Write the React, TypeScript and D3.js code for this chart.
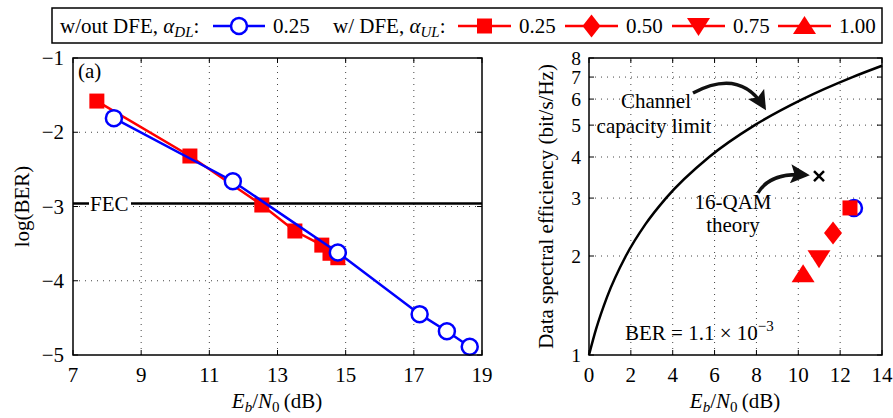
import React, { useRef, useEffect } from 'react';
import * as d3 from 'd3';

// left panel: log(BER) vs Eb/N0
const blueX = [8.2, 11.69, 14.77, 17.17, 17.97, 18.64];
const blueY = [-1.81, -2.66, -3.62, -4.45, -4.68, -4.89];
const redX = [7.7, 10.43, 12.54, 13.51, 14.3, 14.54, 14.77];
const redY = [-1.58, -2.32, -2.98, -3.33, -3.52, -3.63, -3.69];
const fecLevel = -2.96;
const leftXTicks = [7, 9, 11, 13, 15, 17, 19];
const leftYTicks = [-1, -2, -3, -4, -5];

// right panel: spectral efficiency
const capX = [0, 0.34, 0.86, 1.76, 2.7, 3.68, 5.74, 7.92, 10.21, 12.59, 14.0];
const capY = [1, 1.2, 1.5, 2, 2.5, 3, 4, 5, 6, 7, 7.58];
const dfeShapes = ['square', 'diamond', 'down', 'up'];
const dfeAlpha = ['0.25', '0.50', '0.75', '1.00'];
const dfeX = [12.47, 11.66, 10.99, 10.23];
const dfeY = [2.8, 2.35, 1.97, 1.76];
const noDfeX = [12.66];
const noDfeY = [2.8];
const qamX = 10.99;
const qamY = 3.5;
const rightXTicks = [0, 2, 4, 6, 8, 10, 12, 14];
const rightYTicks = [1, 2, 3, 4, 5, 6, 7, 8];

const FONT = "'Liberation Serif'";
const FS = 21;
const SUB = 15;
const RED = '#ff0000';
const BLUE = '#0000ff';

function marker(g: any, shape: string, x: number, y: number) {
  if (shape === 'circle') {
    g.append('circle').attr('cx', x).attr('cy', y).attr('r', 8)
      .attr('fill', '#fff').attr('stroke', BLUE).attr('stroke-width', 2.5);
    return;
  }
  let pts: number[][] = [];
  if (shape === 'square') pts = [[-7.5, -7.5], [7.5, -7.5], [7.5, 7.5], [-7.5, 7.5]];
  if (shape === 'diamond') pts = [[0, -11.5], [9, 0], [0, 11.5], [-9, 0]];
  if (shape === 'down') pts = [[-11.5, -8], [11.5, -8], [0, 10]];
  if (shape === 'up') pts = [[-11.5, 8], [11.5, 8], [0, -10]];
  g.append('polygon').attr('points', pts.map(p => `${x + p[0]},${y + p[1]}`).join(' '))
    .attr('fill', RED);
}

function ebLabel(svg: any, cx: number, y: number) {
  const t = svg.append('text').attr('x', cx).attr('y', y).attr('text-anchor', 'middle')
    .attr('font-size', FS);
  t.append('tspan').attr('font-style', 'italic').text('E');
  t.append('tspan').attr('font-style', 'italic').attr('font-size', SUB).attr('dy', 4).text('b');
  t.append('tspan').attr('dy', -4).text('/');
  t.append('tspan').attr('font-style', 'italic').text('N');
  t.append('tspan').attr('font-size', SUB).attr('dy', 4).text('0');
  t.append('tspan').attr('dy', -4).text('\u2009(dB)');
}

function frame(svg: any, x: any, y: any, xt: number[], yt: number[], gx: number[], gy: number[]) {
  const [x0, x1] = x.range();
  const [y0, y1] = y.range();
  const g = svg.append('g');
  gx.forEach(v => g.append('line').attr('x1', x(v)).attr('x2', x(v)).attr('y1', y0).attr('y2', y1)
    .attr('stroke', '#444').attr('stroke-width', 1).attr('stroke-dasharray', '1,5'));
  gy.forEach(v => g.append('line').attr('y1', y(v)).attr('y2', y(v)).attr('x1', x0).attr('x2', x1)
    .attr('stroke', '#444').attr('stroke-width', 1).attr('stroke-dasharray', '1,5'));
  xt.forEach(v => {
    g.append('line').attr('x1', x(v)).attr('x2', x(v)).attr('y1', y0).attr('y2', y0 - 5).attr('stroke', '#000');
    g.append('line').attr('x1', x(v)).attr('x2', x(v)).attr('y1', y1).attr('y2', y1 + 5).attr('stroke', '#000');
  });
  yt.forEach(v => {
    g.append('line').attr('y1', y(v)).attr('y2', y(v)).attr('x1', x0).attr('x2', x0 + 5).attr('stroke', '#000');
    g.append('line').attr('y1', y(v)).attr('y2', y(v)).attr('x1', x1).attr('x2', x1 - 5).attr('stroke', '#000');
  });
  return g;
}

function box(svg: any, x: any, y: any) {
  const [x0, x1] = x.range();
  const [y0, y1] = y.range();
  svg.append('rect').attr('x', x0).attr('y', y1).attr('width', x1 - x0).attr('height', y0 - y1)
    .attr('fill', 'none').attr('stroke', '#000').attr('stroke-width', 1.5);
}

const App = () => {
  const svgRef = useRef<SVGSVGElement>(null);

  useEffect(() => {
    const svg = d3.select(svgRef.current);
    svg.selectAll('*').remove();

    // ---------- left panel ----------
    const xL = d3.scaleLinear().domain([7, 19]).range([73, 482]);
    const yL = d3.scaleLinear().domain([-5, -1]).range([355, 58]);
    frame(svg, xL, yL, leftXTicks, leftYTicks, leftXTicks.slice(1, -1), leftYTicks.slice(1, -1));

    leftXTicks.forEach(v => svg.append('text').attr('x', xL(v)).attr('y', 382)
      .attr('text-anchor', 'middle').attr('font-size', FS).text(v));
    leftYTicks.forEach(v => svg.append('text').attr('x', 64).attr('y', yL(v) + 7)
      .attr('text-anchor', 'end').attr('font-size', FS).text('\u2212' + Math.abs(v)));
    svg.append('text').attr('transform', `translate(29,${(58 + 355) / 2}) rotate(-90)`)
      .attr('text-anchor', 'middle').attr('font-size', FS).text('log(BER)');
    ebLabel(svg, 277, 408);

    // FEC threshold
    svg.append('line').attr('x1', xL(7)).attr('x2', xL(19)).attr('y1', yL(fecLevel)).attr('y2', yL(fecLevel))
      .attr('stroke', '#000').attr('stroke-width', 2.5);
    svg.append('rect').attr('x', 89).attr('y', yL(fecLevel) - 10).attr('width', 42).attr('height', 18).attr('fill', '#fff');
    svg.append('text').attr('x', 90).attr('y', yL(fecLevel) + 7).attr('font-size', FS).text('FEC');
    svg.append('text').attr('x', 78).attr('y', 78).attr('font-size', FS).text('(a)');

    const redPts = redX.map((v, i) => [xL(v), yL(redY[i])] as [number, number]);
    const bluePts = blueX.map((v, i) => [xL(v), yL(blueY[i])] as [number, number]);
    svg.append('path').attr('d', d3.line()(redPts)).attr('fill', 'none').attr('stroke', RED).attr('stroke-width', 2.5);
    const gm = svg.append('g');
    redPts.forEach(p => marker(gm, 'square', p[0], p[1]));
    svg.append('path').attr('d', d3.line()(bluePts)).attr('fill', 'none').attr('stroke', BLUE).attr('stroke-width', 2.5);
    const gb = svg.append('g');
    bluePts.forEach(p => marker(gb, 'circle', p[0], p[1]));
    box(svg, xL, yL);

    // ---------- right panel ----------
    const xR = d3.scaleLinear().domain([0, 14]).range([589, 882]);
    const yR = d3.scaleLog().base(2).domain([1, 8]).range([355, 58]);
    frame(svg, xR, yR, rightXTicks, rightYTicks, rightXTicks.slice(1, -1), rightYTicks.slice(1, -1));

    rightXTicks.forEach(v => svg.append('text').attr('x', xR(v)).attr('y', 382)
      .attr('text-anchor', 'middle').attr('font-size', FS).text(v));
    rightYTicks.forEach(v => svg.append('text').attr('x', 581).attr('y', yR(v) + 6.5)
      .attr('text-anchor', 'end').attr('font-size', 19.5).text(v));
    svg.append('text').attr('transform', `translate(553,${(58 + 355) / 2}) rotate(-90)`)
      .attr('text-anchor', 'middle').attr('font-size', FS).text('Data spectral efficiency (bit/s/Hz)');
    ebLabel(svg, 735, 408);

    const capLine = d3.line<number>().x(d => xR(d)).y((d, i) => yR(capY[i])).curve(d3.curveMonotoneX);
    svg.append('path').attr('d', capLine(capX)).attr('fill', 'none').attr('stroke', '#000').attr('stroke-width', 2.5);

    // 16-QAM cross
    const qx = xR(qamX), qy = yR(qamY);
    svg.append('path').attr('d', `M${qx - 5},${qy - 5}L${qx + 5},${qy + 5}M${qx - 5},${qy + 5}L${qx + 5},${qy - 5}`)
      .attr('stroke', '#000').attr('stroke-width', 2.5);

    const gr = svg.append('g');
    noDfeX.forEach((v, i) => marker(gr, 'circle', xR(v), yR(noDfeY[i])));
    dfeX.forEach((v, i) => marker(gr, dfeShapes[i], xR(v), yR(dfeY[i])));

    // annotations
    const defs = svg.append('defs');
    defs.append('marker').attr('id', 'ah').attr('viewBox', '0 0 10 10').attr('refX', 8).attr('refY', 5)
      .attr('markerWidth', 5.5).attr('markerHeight', 5.5).attr('orient', 'auto-start-reverse')
      .append('path').attr('d', 'M0,0L10,5L0,10L2,5Z').attr('fill', '#111');
    svg.append('path').attr('d', `M693,93 Q740,68 764,107`).attr('fill', 'none')
      .attr('stroke', '#111').attr('stroke-width', 3.5).attr('marker-end', 'url(#ah)');
    svg.append('path').attr('d', `M758,193 Q770,172 806,175`).attr('fill', 'none')
      .attr('stroke', '#111').attr('stroke-width', 3.5).attr('marker-end', 'url(#ah)');

    const ann = [
      ['Channel', 656, 108], ['capacity limit', 654, 133], ['16-QAM', 733, 209], ['theory', 733, 232],
    ];
    ann.forEach(a => svg.append('text').attr('x', a[1]).attr('y', a[2]).attr('text-anchor', 'middle')
      .attr('font-size', FS).text(a[0] as string));
    const ber = svg.append('text').attr('x', 625).attr('y', 340).attr('font-size', FS);
    ber.append('tspan').text('BER = 1.1 \u00d7 10');
    ber.append('tspan').attr('font-size', SUB).attr('dy', -9).text('\u22123');
    box(svg, xR, yR);

    // ---------- legend ----------
    const lg = svg.append('g');
    lg.append('rect').attr('x', 52).attr('y', 8).attr('width', 830).attr('height', 35)
      .attr('fill', '#fff').attr('stroke', '#000').attr('stroke-width', 1.5);
    const ly = 26;
    const t1 = lg.append('text').attr('x', 60).attr('y', ly + 7).attr('font-size', FS);
    t1.append('tspan').text('w/out DFE, ');
    t1.append('tspan').attr('font-style', 'italic').text('\u03b1');
    t1.append('tspan').attr('font-style', 'italic').attr('font-size', SUB).attr('dy', 4).text('DL');
    t1.append('tspan').attr('dy', -4).text(':');
    lg.append('line').attr('x1', 213).attr('x2', 265).attr('y1', ly).attr('y2', ly).attr('stroke', BLUE).attr('stroke-width', 2.5);
    marker(lg, 'circle', 239, ly);
    lg.append('text').attr('x', 273).attr('y', ly + 7).attr('font-size', FS).text('0.25');

    const t2 = lg.append('text').attr('x', 333).attr('y', ly + 7).attr('font-size', FS);
    t2.append('tspan').text('w/ DFE, ');
    t2.append('tspan').attr('font-style', 'italic').text('\u03b1');
    t2.append('tspan').attr('font-style', 'italic').attr('font-size', SUB).attr('dy', 4).text('UL');
    t2.append('tspan').attr('dy', -4).text(':');
    const lx = [458, 565, 672, 778];
    dfeShapes.forEach((s, i) => {
      lg.append('line').attr('x1', lx[i]).attr('x2', lx[i] + 53).attr('y1', ly).attr('y2', ly)
        .attr('stroke', RED).attr('stroke-width', 2.5);
      marker(lg, s, lx[i] + 26.5, ly);
      lg.append('text').attr('x', lx[i] + 61).attr('y', ly + 7).attr('font-size', FS).text(dfeAlpha[i]);
    });

    // serif everywhere
    svg.selectAll('text').style('font-family', FONT);
  }, []);

  return (
    <svg ref={svgRef} width={893} height={418}
      style={{ position: 'absolute', left: 0, top: 0 }} />
  );
};

export default App;
